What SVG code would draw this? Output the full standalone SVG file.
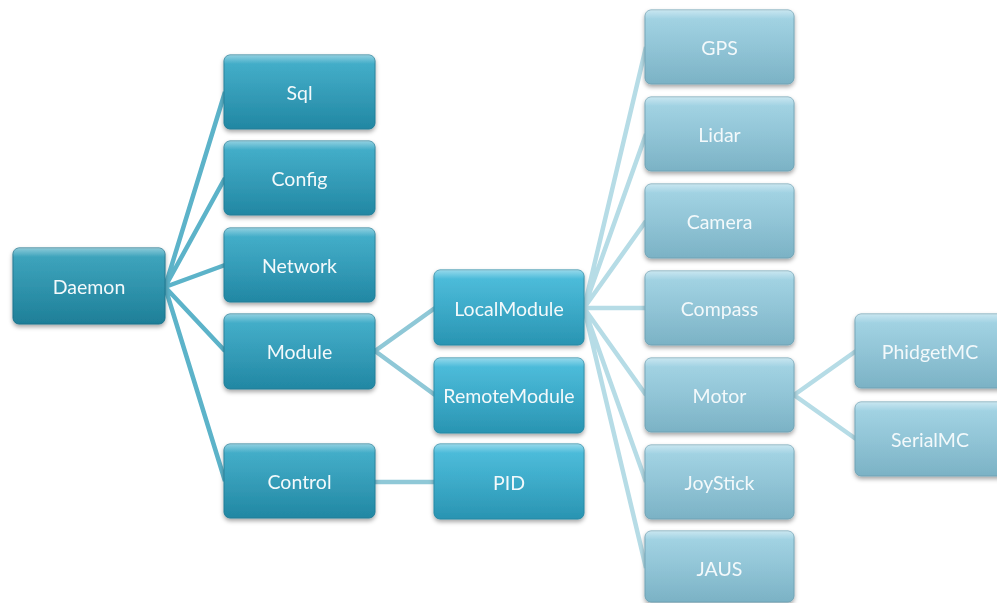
<svg xmlns="http://www.w3.org/2000/svg" width="997" height="603" viewBox="0 0 997 603">
  <defs>
    <linearGradient id="g0" x1="0" y1="0" x2="0" y2="1">
      <stop offset="0" stop-color="#2e9fba"/>
      <stop offset="1" stop-color="#1e7f98"/>
    </linearGradient>
    <linearGradient id="g1" x1="0" y1="0" x2="0" y2="1">
      <stop offset="0" stop-color="#35aac8"/>
      <stop offset="1" stop-color="#2287a3"/>
    </linearGradient>
    <linearGradient id="g2" x1="0" y1="0" x2="0" y2="1">
      <stop offset="0" stop-color="#3fbadb"/>
      <stop offset="1" stop-color="#2994b2"/>
    </linearGradient>
    <linearGradient id="g3" x1="0" y1="0" x2="0" y2="1">
      <stop offset="0" stop-color="#9dd2e4"/>
      <stop offset="1" stop-color="#7bb2c5"/>
    </linearGradient>
    <linearGradient id="gloss" x1="0" y1="0" x2="0" y2="1">
      <stop offset="0" stop-color="#ffffff" stop-opacity="0.45"/>
      <stop offset="0.12" stop-color="#ffffff" stop-opacity="0.08"/>
      <stop offset="1" stop-color="#ffffff" stop-opacity="0"/>
    </linearGradient>
    <filter id="shadow" x="-10%" y="-10%" width="120%" height="130%">
      <feDropShadow dx="0" dy="2.5" stdDeviation="2" flood-color="#000" flood-opacity="0.35"/>
    </filter>
  </defs>
  <style>
    .box { filter: url(#shadow); }
    .box rect.b { rx: 6px; ry: 6px; stroke-width: 1; }
    .box rect.h { rx: 6px; ry: 6px; fill: url(#gloss); }
    .l0 rect.b { fill: url(#g0); stroke: #1b718a; }
    .l1 rect.b { fill: url(#g1); stroke: #1f7c96; }
    .l2 rect.b { fill: url(#g2); stroke: #2488a4; }
    .l3 rect.b { fill: url(#g3); stroke: #6fa2b4; }
    .box text { font-family: Lato, "Open Sans", "Liberation Sans", sans-serif; font-size: 19.5px; fill: #f3f9fb; text-anchor: middle; dominant-baseline: central; }
    .c1 { stroke: #5cb3c9; stroke-width: 4.5; fill: none; }
    .c2 { stroke: #8fc8d7; stroke-width: 4.5; fill: none; }
    .c3 { stroke: #b6dce6; stroke-width: 4.5; fill: none; }
  </style>
  <rect width="997" height="603" fill="#ffffff"/>

  <!-- links between parents and children -->
  <g id="connectors">
    <path class="c1" d="M165 287 L225 92 M165 287 L225 178 M165 287 L225 265 M165 287 L225 351 M165 287 L225 481"/>
    <path class="c2" d="M375 351 L435 308 M375 351 L435 395 M375 482 L435 482"/>
    <path class="c3" d="M584 308 L646 47 M584 308 L646 134 M584 308 L646 221 M584 308 L646 308 M584 308 L646 395 M584 308 L646 482 M584 308 L646 568"/>
    <path class="c3" d="M794 395 L856 351 M794 395 L856 439"/>
  </g>

  <!-- root -->
  <g id="daemon" class="box l0"><rect class="b" x="13" y="248" width="152" height="76"/><rect class="h" x="13" y="248" width="152" height="76"/><text x="89" y="286">Daemon</text></g>

  <!-- second level -->
  <g id="sql" class="box l1"><rect class="b" x="224" y="55" width="151" height="74"/><rect class="h" x="224" y="55" width="151" height="74"/><text x="299.5" y="92">Sql</text></g>
  <g id="config" class="box l1"><rect class="b" x="224" y="141" width="151" height="74"/><rect class="h" x="224" y="141" width="151" height="74"/><text x="299.5" y="178">Config</text></g>
  <g id="network" class="box l1"><rect class="b" x="224" y="228" width="151" height="74"/><rect class="h" x="224" y="228" width="151" height="74"/><text x="299.5" y="265">Network</text></g>
  <g id="module" class="box l1"><rect class="b" x="224" y="314" width="151" height="75"/><rect class="h" x="224" y="314" width="151" height="75"/><text x="299.5" y="351">Module</text></g>
  <g id="control" class="box l1"><rect class="b" x="224" y="444" width="151" height="74"/><rect class="h" x="224" y="444" width="151" height="74"/><text x="299.5" y="481">Control</text></g>

  <!-- third level -->
  <g id="localmodule" class="box l2"><rect class="b" x="434" y="270" width="150" height="75"/><rect class="h" x="434" y="270" width="150" height="75"/><text x="509" y="308">LocalModule</text></g>
  <g id="remotemodule" class="box l2"><rect class="b" x="434" y="358" width="150" height="75"/><rect class="h" x="434" y="358" width="150" height="75"/><text x="509" y="395">RemoteModule</text></g>
  <g id="pid" class="box l2"><rect class="b" x="434" y="444" width="150" height="75"/><rect class="h" x="434" y="444" width="150" height="75"/><text x="509" y="482">PID</text></g>

  <!-- devices -->
  <g id="gps" class="box l3"><rect class="b" x="645" y="10" width="149" height="74"/><rect class="h" x="645" y="10" width="149" height="74"/><text x="719.5" y="47">GPS</text></g>
  <g id="lidar" class="box l3"><rect class="b" x="645" y="97" width="149" height="74"/><rect class="h" x="645" y="97" width="149" height="74"/><text x="719.5" y="134">Lidar</text></g>
  <g id="camera" class="box l3"><rect class="b" x="645" y="184" width="149" height="74"/><rect class="h" x="645" y="184" width="149" height="74"/><text x="719.5" y="221">Camera</text></g>
  <g id="compass" class="box l3"><rect class="b" x="645" y="271" width="149" height="74"/><rect class="h" x="645" y="271" width="149" height="74"/><text x="719.5" y="308">Compass</text></g>
  <g id="motor" class="box l3"><rect class="b" x="645" y="358" width="149" height="74"/><rect class="h" x="645" y="358" width="149" height="74"/><text x="719.5" y="395">Motor</text></g>
  <g id="joystick" class="box l3"><rect class="b" x="645" y="445" width="149" height="74"/><rect class="h" x="645" y="445" width="149" height="74"/><text x="719.5" y="482">JoyStick</text></g>
  <g id="jaus" class="box l3"><rect class="b" x="645" y="531" width="149" height="71"/><rect class="h" x="645" y="531" width="149" height="71"/><text x="719.5" y="568">JAUS</text></g>

  <!-- motor controllers -->
  <g id="phidgetmc" class="box l3"><rect class="b" x="855" y="314" width="150" height="74"/><rect class="h" x="855" y="314" width="150" height="74"/><text x="930" y="351">PhidgetMC</text></g>
  <g id="serialmc" class="box l3"><rect class="b" x="855" y="402" width="150" height="74"/><rect class="h" x="855" y="402" width="150" height="74"/><text x="930" y="439">SerialMC</text></g>
</svg>
